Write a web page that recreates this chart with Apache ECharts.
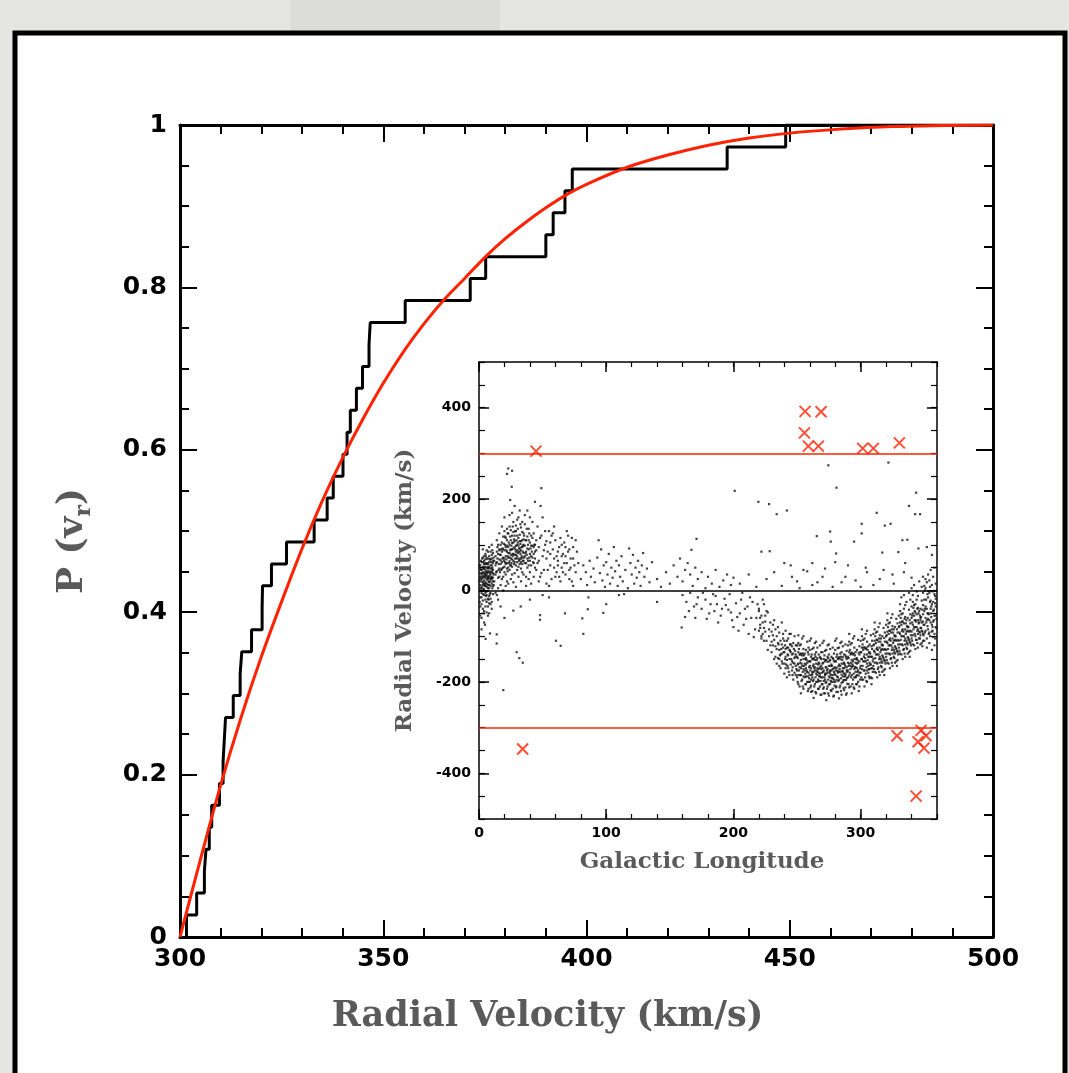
<!DOCTYPE html>
<html>
<head>
<meta charset="utf-8">
<script src="https://cdn.jsdelivr.net/npm/echarts@6.0.0/dist/echarts.min.js"></script>
<style>
html,body{margin:0;padding:0;background:#e5e5e3;}
#chart{width:1069px;height:1073px;}
</style>
</head>
<body>
<div id="chart"></div>
<script>
// ---------- Main panel: cumulative distribution of radial velocities ----------
const stepVelocities = [301.6, 304.1, 306.0, 306.4, 307.2, 307.8, 309.7, 310.6, 310.9, 311.2,
  313.1, 314.8, 315.2, 317.6, 320.2, 320.3, 322.5, 326.2, 333.0, 336.2, 337.7, 340.1, 341.1,
  341.9, 343.4, 344.9, 346.5, 346.8, 355.4, 371.4, 375.2, 390.0, 391.8, 394.7, 396.5, 434.6, 449.0];
const modelVelocities = [300,305,310,315,320,325,330,335,340,345,350,355,360,365,370,375,380,385,390,395,400,410,420,430,440,450,460,475,500];
const modelProbability = [0,0.095,0.187,0.27,0.345,0.413,0.478,0.537,0.59,0.638,0.682,0.721,0.755,0.785,0.811,0.837,0.86,0.88,0.898,0.914,0.927,0.948,0.963,0.975,0.984,0.99,0.994,0.998,1];
const mainXTicks = [300, 350, 400, 450, 500];
const mainYTicks = [0, 0.2, 0.4, 0.6, 0.8, 1];

// ---------- Inset: radial velocity vs galactic longitude (lon, vel pairs) ----------
const starsInnerBulge = [1,12,2,35,3,-8,1,48,4,22,5,60,2,-30,6,15,3,72,7,40,8,-12,5,28,9,55,4,-45,6,88,10,30,7,5,3,18,11,65,8,42,2,-60,9,20,5,-20,6,50,1,-15,10,78,4,38,7,-35,11,10,8,95,3,52,9,-5,6,33,2,8,5,80,10,-25,7,58,4,3,11,45,1,25,8,18,3,-40,6,70,9,35,2,62,5,10,10,55,7,25,4,-70,11,82,8,-28,3,40,6,-10,9,68,1,38,5,45,10,15,7,-55,4,58,2,20,8,32,11,-8,6,24,3,90,9,-18,5,-5,1,-35,10,42,7,12,4,75,8,62,2,45,6,-48,11,28,3,0,9,48,5,32,7,85,1,55,10,-40,4,14,8,5,6,40,2,-5,9,25,11,60,3,28,5,68,7,-18,4,48,10,70,8,-50,1,5,6,8,3,-22,9,85,2,30,5,18,11,38,7,48,4,-10,10,25,8,75,6,58,1,-55,3,62,9,10,2,-85,5,-35,7,30,4,30,10,100,6,-25,8,50,
0.5,20,1.5,45,2.5,5,3.5,32,4.5,58,5.5,15,6.5,42,7.5,-20,8.5,68,9.5,28,10.5,50,11.5,12,0.5,-25,1.5,65,2.5,38,3.5,-50,4.5,10,5.5,75,6.5,28,7.5,52,8.5,-8,9.5,40,10.5,88,11.5,35,0.5,55,1.5,0,2.5,70,3.5,15,4.5,35,5.5,-12,6.5,60,7.5,20,8.5,38,9.5,62,10.5,5,11.5,72,2,25,3,48,4,65,5,40,6,-2,7,70,8,28,9,-30,10,48,11,20,1,30,2,-15,3,12,4,50,5,52,6,36,7,50,8,12];
const starsFirstQuadrant = [12,20,13,55,14,-10,15,80,13,35,16,48,17,100,14,62,18,25,15,5,19,72,16,90,20,40,17,58,21,115,18,85,22,60,19,30,23,95,20,130,21,75,22,20,24,82,25,110,23,50,26,68,24,140,27,92,25,55,28,120,26,35,29,78,27,150,30,100,28,62,31,85,29,130,32,108,30,45,33,70,31,160,34,95,32,58,35,125,33,88,36,75,34,40,37,110,35,65,38,92,36,145,39,55,40,80,37,30,41,120,38,70,42,98,39,135,43,60,44,85,40,40,45,110,41,75,42,150,43,95,44,50,
13,75,14,42,15,28,16,68,17,12,18,105,19,50,20,88,21,35,22,110,23,72,24,45,25,90,26,120,27,65,28,38,29,98,30,75,31,115,32,85,33,48,34,128,35,100,36,60,37,85,38,118,39,90,40,105,41,55,42,72,43,125,44,70,45,88,
14,85,16,30,18,62,20,70,22,85,24,100,26,90,28,78,30,120,32,68,34,72,36,98,38,50,40,65,42,115,44,100,15,100,17,78,19,118,21,95,23,125,25,70,27,105,29,55,31,70,33,108,35,82,37,60,39,110,41,98,43,80,
12,65,14,110,16,125,18,140,20,160,22,135,24,165,26,170,28,185,30,155,32,175,34,150,36,165,38,175,40,160,13,-5,15,-20,17,-35,19,0,21,10,23,15,25,25,27,18,29,8,31,30,33,20,35,35,37,10,39,25,41,15,43,30,45,45,
20,52,21,58,22,48,23,82,24,64,25,78,26,52,27,80,28,95,29,85,30,88,31,52,32,92,33,62,34,110,22,98,24,72,26,104,28,108,30,62,32,122,34,58,19,90,18,48,17,66,16,88,25,132,27,128,29,142,31,98,33,138,35,112,
13.5,60,14.5,95,15.5,45,16.5,78,17.5,90,18.5,70,19.5,102,20.5,62,21.5,88,22.5,75,23.5,105,24.5,88,25.5,98,26.5,80,27.5,112,28.5,90,29.5,70,30.5,105,31.5,92,32.5,80,33.5,95,34.5,85,35.5,72,36.5,110,37.5,78,38.5,100,39.5,72,40.5,92,13.5,40,14.5,70,15.5,58,16.5,40,17.5,45,18.5,92,19.5,65,20.5,100,21.5,68,22.5,42,23.5,60,24.5,118,25.5,60,26.5,75,27.5,58,28.5,130,29.5,110,30.5,82,31.5,65,32.5,102,33.5,75,34.5,98,35.5,120,36.5,82,37.5,135,38.5,65,39.5,125,41.5,85,42.5,62,43.5,100,20.5,118,22.5,125,24.5,55,26.5,140,28.5,70,30.5,135,32.5,145,34.5,65];
const starsOuterFirst = [46,60,47,95,48,30,49,120,50,75,51,45,52,100,53,15,54,85,55,130,56,55,57,25,58,90,59,70,60,110,61,40,62,65,63,95,64,20,65,50,66,80,67,105,68,35,69,60,70,85,71,45,72,70,73,20,74,95,75,55,46,140,48,115,50,160,52,130,54,45,56,105,58,125,60,30,62,85,64,115,66,40,68,75,70,120,72,50,74,10,47,65,49,38,51,88,53,70,55,10,57,120,59,50,61,75,63,30,65,100,67,60,69,130,71,90,73,115,47,20,50,-10,53,108,56,80,59,140,62,55,65,75,68,95,71,25,74,70,76,40,77,85,78,60,76,110];
const starsAnticentre = [80,25,82,55,84,40,85,12,87,65,88,30,90,48,91,18,93,72,95,38,96,90,97,22,98,55,99,8,100,62,101,35,102,80,103,15,104,50,105,28,106,95,107,42,108,65,109,10,110,55,111,30,112,75,113,20,115,45,117,5,119,60,120,35,121,78,122,15,123,50,124,28,125,65,126,40,127,10,128,55,129,82,130,30,132,48,134,18,136,62,140,25,143,8,147,40,150,15,153,55,156,30,158,70,160,20,162,45,164,60,166,35,168,10,170,50,172,25,175,40,178,5,180,30,183,15,186,45,189,8,192,22,195,35,198,12,200,28,94,110,118,92,86,-15,114,-8,171,113,167,89,
160,-10,163,-25,166,-5,169,-35,172,-15,175,-40,178,-20,181,-50,184,-8,187,-30,190,-55,193,-18,196,-42,199,-65,202,-28,205,-50,208,-75,211,-35,214,-60,217,-85,220,-45,223,-70,165,-45,170,-60,176,-5,182,-30,188,-70,194,-32,200,-80,206,-20,212,-95,218,-60,222,-100,186,-12,191,-40,197,-8,203,-58,209,-40,215,-25,221,-82,224,-110,210,-62,216,-102,204,-88,198,-48,207,-5,213,-15,219,-30,225,-55,179,-62,185,-45,171,-30,162,-58];
const starsFourthQuadrant = [220,-40,221,-75,222,-55,223,-95,224,-30,225,-68,226,-110,227,-48,228,-85,229,-120,221,-60,223,-20,225,-90,227,-130,229,-70,222,-105,224,-82,226,-45,228,-100,220,-88,
230,-90,231,-120,232,-65,233,-145,234,-100,235,-80,236,-130,237,-110,238,-155,239,-95,230,-135,231,-75,232,-108,233,-122,234,-160,235,-115,236,-92,237,-140,238,-70,239,-125,230,-112,232,-150,234,-128,236,-165,238,-118,231,-98,233,-85,235,-148,237,-170,239,-105,
240,-110,241,-145,242,-125,243,-170,244,-95,245,-135,246,-155,247,-115,248,-180,249,-140,240,-160,241,-128,242,-190,243,-105,244,-150,245,-118,246,-175,247,-138,248,-100,249,-165,240,-135,241,-88,242,-152,243,-142,244,-185,245,-162,246,-122,247,-195,248,-148,249,-120,240,-182,242,-110,244,-130,246,-140,248,-160,241,-170,243,-125,245,-95,247,-158,249,-185,
250,-120,251,-160,252,-140,253,-185,254,-105,255,-150,256,-175,257,-130,258,-200,259,-155,250,-175,251,-135,252,-210,253,-118,254,-165,255,-128,256,-190,257,-148,258,-112,259,-180,250,-145,251,-98,252,-168,253,-152,254,-195,255,-172,256,-138,257,-205,258,-158,259,-125,250,-190,251,-185,252,-120,253,-138,254,-142,255,-215,256,-160,257,-170,258,-178,259,-140,251,-115,253,-170,255,-100,257,-188,259,-200,
260,-130,261,-170,262,-150,263,-195,264,-115,265,-160,266,-185,267,-140,268,-210,269,-165,260,-185,261,-145,262,-220,263,-125,264,-175,265,-135,266,-200,267,-158,268,-120,269,-190,260,-155,261,-105,262,-178,263,-162,264,-205,265,-182,266,-148,267,-215,268,-168,269,-135,260,-200,261,-195,262,-128,263,-148,264,-152,265,-225,266,-170,267,-180,268,-188,269,-150,260,-110,262,-190,264,-140,266,-125,268,-145,261,-208,263,-178,265,-112,267,-198,269,-172,
270,-135,271,-175,272,-155,273,-200,274,-120,275,-165,276,-190,277,-145,278,-215,279,-170,270,-190,271,-150,272,-225,273,-130,274,-180,275,-140,276,-205,277,-162,278,-125,279,-195,270,-160,271,-110,272,-182,273,-168,274,-210,275,-188,276,-152,277,-220,278,-172,279,-138,270,-205,271,-198,272,-132,273,-152,274,-156,275,-230,276,-175,277,-185,278,-192,279,-155,270,-115,272,-195,274,-145,276,-128,278,-148,271,-212,273,-182,275,-118,277,-200,279,-178,
280,-130,281,-170,282,-150,283,-195,284,-115,285,-160,286,-188,287,-140,288,-212,289,-168,280,-185,281,-145,282,-222,283,-125,284,-178,285,-135,286,-200,287,-158,288,-118,289,-192,280,-155,281,-105,282,-176,283,-162,284,-208,285,-184,286,-146,287,-218,288,-166,289,-132,280,-200,281,-196,282,-126,283,-146,284,-150,285,-228,286,-170,287,-182,288,-186,289,-150,280,-110,282,-190,284,-138,286,-122,288,-142,281,-210,283,-178,285,-112,287,-196,289,-175,
290,-120,291,-160,292,-140,293,-185,294,-105,295,-150,296,-178,297,-130,298,-200,299,-155,290,-175,291,-135,292,-210,293,-115,294,-165,295,-125,296,-190,297,-148,298,-108,299,-180,290,-145,291,-95,292,-165,293,-152,294,-195,295,-172,296,-135,297,-205,298,-158,299,-122,290,-190,291,-186,292,-118,293,-136,294,-140,295,-215,296,-158,297,-170,298,-175,299,-140,291,-112,293,-168,295,-100,297,-185,
300,-110,301,-150,302,-130,303,-175,304,-95,305,-140,306,-165,307,-118,308,-190,309,-145,300,-165,301,-125,302,-195,303,-105,304,-155,305,-112,306,-180,307,-135,308,-98,309,-170,300,-135,301,-85,302,-155,303,-140,304,-182,305,-160,306,-122,307,-192,308,-145,309,-110,300,-180,301,-172,302,-108,303,-125,304,-128,305,-200,306,-145,307,-158,308,-162,309,-128,301,-100,303,-155,305,-88,307,-172,
310,-95,311,-135,312,-115,313,-160,314,-80,315,-125,316,-150,317,-100,318,-175,319,-128,310,-150,311,-110,312,-180,313,-90,314,-140,315,-98,316,-165,317,-120,318,-82,319,-155,310,-120,311,-70,312,-140,313,-125,314,-168,315,-145,316,-105,317,-178,318,-130,319,-92,310,-165,311,-158,312,-92,313,-108,314,-112,315,-185,316,-130,317,-142,318,-148,319,-112,311,-85,313,-140,315,-72,317,-158,
320,-75,321,-115,322,-95,323,-140,324,-60,325,-105,326,-130,327,-80,328,-155,329,-108,320,-130,321,-90,322,-160,323,-70,324,-120,325,-78,326,-145,327,-100,328,-62,329,-135,320,-100,321,-50,322,-120,323,-105,324,-148,325,-125,326,-85,327,-158,328,-110,329,-72,320,-145,321,-138,322,-72,323,-88,324,-92,325,-165,326,-110,327,-122,328,-128,329,-92,321,-65,323,-120,325,-52,327,-138,
330,-55,331,-95,332,-75,333,-120,334,-40,335,-85,336,-110,337,-60,338,-135,339,-88,330,-110,331,-70,332,-140,333,-50,334,-100,335,-58,336,-125,337,-80,338,-42,339,-115,330,-80,331,-30,332,-100,333,-85,334,-128,335,-105,336,-65,337,-138,338,-90,339,-52,330,-125,331,-118,332,-52,333,-68,334,-72,335,-145,336,-90,337,-102,338,-108,339,-72,331,-45,333,-100,335,-32,337,-118,339,-20,332,-15,334,-10,336,-25,338,-5,
340,-35,341,-75,342,-55,343,-100,344,-20,345,-65,346,-90,347,-40,348,-115,349,-68,340,-90,341,-50,342,-120,343,-30,344,-80,345,-38,346,-105,347,-60,348,-22,349,-95,340,-60,341,-10,342,-80,343,-65,344,-108,345,-85,346,-45,347,-118,348,-70,349,-32,340,-105,341,-98,342,-32,343,-48,344,-52,345,-125,346,-70,347,-82,348,-88,349,-52,341,-25,343,-80,345,-12,347,-98,349,-5,340,5,342,12,344,-2,346,20,348,8,349,30,
350,-20,351,-60,352,-40,353,-85,354,-5,355,-50,356,-75,357,-25,358,-95,359,-55,350,-75,351,-35,352,-105,353,-15,354,-65,355,-22,356,-90,357,-45,358,-8,359,-80,350,-45,351,5,352,-65,353,-50,354,-92,355,-70,356,-30,357,-102,358,-55,359,-18,350,10,351,25,352,18,353,35,354,22,355,45,356,12,357,30,358,50,359,15,350,-110,352,-125,354,-115,356,-130,358,-120,351,-88,353,-62,355,-40,357,-68,359,-35];
const starsFourthCore = [235.5,-118,236.5,-142,237.5,-128,238.5,-160,239.5,-135,236,-150,238,-138,240.5,-120,241.5,-162,242.5,-140,243.5,-178,244.5,-132,245.5,-150,246.5,-168,247.5,-128,248.5,-145,249.5,-172,240.5,-150,242.5,-165,244.5,-118,246.5,-185,248.5,-132,
250.5,-148,251.5,-175,252.5,-158,253.5,-198,254.5,-138,255.5,-165,256.5,-182,257.5,-152,258.5,-220,259.5,-168,250.5,-200,251.5,-128,252.5,-185,253.5,-160,254.5,-210,255.5,-142,256.5,-205,257.5,-175,258.5,-135,259.5,-192,250.5,-162,252.5,-140,254.5,-178,256.5,-150,258.5,-188,251,-205,253,-225,255,-188,257,-162,259,-215,
260.5,-155,261.5,-185,262.5,-165,263.5,-210,264.5,-145,265.5,-175,266.5,-195,267.5,-160,268.5,-228,269.5,-180,260.5,-212,261.5,-140,262.5,-198,263.5,-170,264.5,-222,265.5,-152,266.5,-215,267.5,-188,268.5,-148,269.5,-205,260.5,-175,262.5,-150,264.5,-190,266.5,-162,268.5,-198,261,-222,263,-235,265,-200,267,-172,269,-228,260,-165,262,-182,264,-168,266,-178,268,-182,
270.5,-158,271.5,-190,272.5,-168,273.5,-215,274.5,-148,275.5,-178,276.5,-198,277.5,-165,278.5,-232,279.5,-182,270.5,-215,271.5,-142,272.5,-202,273.5,-175,274.5,-225,275.5,-155,276.5,-218,277.5,-192,278.5,-150,279.5,-208,270.5,-178,272.5,-152,274.5,-195,276.5,-165,278.5,-200,271,-225,273,-240,275,-205,277,-175,279,-230,270,-170,272,-185,274,-172,276,-182,278,-185,
280.5,-155,281.5,-188,282.5,-166,283.5,-212,284.5,-145,285.5,-176,286.5,-196,287.5,-162,288.5,-228,289.5,-178,280.5,-212,281.5,-140,282.5,-198,283.5,-172,284.5,-220,285.5,-152,286.5,-214,287.5,-188,288.5,-146,289.5,-204,280.5,-175,282.5,-148,284.5,-192,286.5,-160,288.5,-196,281,-222,283,-236,285,-202,287,-170,289,-225,280,-168,282,-180,284,-165,286,-178,288,-182,
290.5,-148,291.5,-180,292.5,-158,293.5,-205,294.5,-138,295.5,-168,296.5,-188,297.5,-152,298.5,-220,299.5,-170,290.5,-205,291.5,-130,292.5,-190,293.5,-162,294.5,-212,295.5,-142,296.5,-205,297.5,-178,298.5,-136,299.5,-195,290.5,-165,292.5,-138,294.5,-182,296.5,-150,298.5,-186,291,-212,293,-225,295,-190,297,-160,299,-210,290,-158,292,-172,294,-155,296,-168,
300.5,-135,301.5,-165,302.5,-145,303.5,-190,304.5,-125,305.5,-152,306.5,-172,307.5,-138,308.5,-205,309.5,-155,300.5,-190,301.5,-118,302.5,-175,303.5,-148,304.5,-198,305.5,-130,306.5,-188,307.5,-162,308.5,-122,309.5,-178,300.5,-150,302.5,-125,304.5,-168,306.5,-136,308.5,-170,301,-195,303,-210,305,-175,307,-145,309,-192,
310.5,-118,311.5,-148,312.5,-128,313.5,-172,314.5,-105,315.5,-135,316.5,-155,317.5,-120,318.5,-185,319.5,-138,310.5,-172,311.5,-100,312.5,-158,313.5,-130,314.5,-178,315.5,-112,316.5,-168,317.5,-145,318.5,-104,319.5,-160,310.5,-132,312.5,-108,314.5,-150,316.5,-118,318.5,-152,311,-178,313,-190,315,-158,317,-128,319,-172,
320.5,-98,321.5,-128,322.5,-108,323.5,-150,324.5,-85,325.5,-115,326.5,-135,327.5,-100,328.5,-165,329.5,-118,320.5,-152,321.5,-80,322.5,-138,323.5,-110,324.5,-158,325.5,-92,326.5,-148,327.5,-125,328.5,-85,329.5,-140,320.5,-112,322.5,-88,324.5,-130,326.5,-98,328.5,-132,321,-158,323,-170,325,-138,327,-108,329,-152,
330.5,-78,331.5,-108,332.5,-88,333.5,-130,334.5,-62,335.5,-95,336.5,-115,337.5,-80,338.5,-145,339.5,-98,330.5,-132,331.5,-60,332.5,-118,333.5,-90,334.5,-138,335.5,-72,336.5,-128,337.5,-105,338.5,-65,339.5,-120,330.5,-92,332.5,-68,334.5,-110,336.5,-78,338.5,-112,331,-138,333,-150,335,-118,337,-88,339,-132,
340.5,-55,341.5,-85,342.5,-65,343.5,-108,344.5,-40,345.5,-72,346.5,-92,347.5,-58,348.5,-122,349.5,-75,340.5,-110,341.5,-38,342.5,-95,343.5,-68,344.5,-115,345.5,-50,346.5,-105,347.5,-82,348.5,-42,349.5,-98,340.5,-70,342.5,-45,344.5,-88,346.5,-55,348.5,-90,341,-118,343,-128,345,-95,347,-65,349,-110,
350.5,-40,351.5,-70,352.5,-50,353.5,-95,354.5,-25,355.5,-58,356.5,-80,357.5,-42,358.5,-105,359.5,-62,350.5,-92,351.5,-20,352.5,-78,353.5,-52,354.5,-100,355.5,-35,356.5,-88,357.5,-65,358.5,-28,359.5,-82,350.5,0,352.5,-8,354.5,8,356.5,-2,358.5,-12];
const starsScattered = [23,267,25.7,227,24.5,198,49,224,44,194,48.4,185,22,255,26,262,
201,218,219.6,194,228,189,234,167,242,175,274.6,274,281,225,321.8,280,343.6,214,338,185,342.8,167,346.7,167,312.6,170,300.8,146,300.8,125,319,142,323.5,146,265.5,119,276,129,276.5,107,294.8,107,280.7,81,222,85,228.5,86,332.8,110,336.7,111,317,83,329.6,84,345.4,92,352,95,356,78,240,60,255,45,270,30,290,55,305,40,335,60,250,20,262,12,285,18,300,8,315,25,325,35,
4.7,-75,8.6,-94,5.2,-106,13.9,-96,13.9,-116,29.6,-135,31.7,-148,34.4,-158,19.1,-218,60.5,-110,64.2,-121,81.2,-61,97.7,-49,67.6,-50,85.5,-41,159.3,-81,48,-54,48,-64,27,-44,32.8,-35,20,-60,40,-20,55,-15,110,-10,140,-25,100,-30,82,-95,
205,15,212,35,218,8,226,25,232,40,238,10,246,30,252,5,258,42,266,18,272,48,278,8,288,30,296,22,304,50,310,12,318,45,326,15,334,40,340,28,245,55,262,60,280,62];

// High-velocity candidates (red crosses)
const candidateLon = [44.8, 256.3, 268.9, 255.8, 258.9, 266.8, 301.6, 310.0, 330.4, 34.3, 328.6, 347.5, 351.4, 345.1, 349.8, 343.6];
const candidateVel = [305, 392, 391, 345, 316, 316, 311, 311, 323, -347, -318, -306, -318, -331, -345, -450];
const velocityCut = [300, -300];
const insetXTicks = [0, 100, 200, 300];
const insetYTicks = [-400, -200, 0, 200, 400];

function pairs(flat) { const out = []; for (let i = 0; i < flat.length; i += 2) out.push([flat[i], flat[i + 1]]); return out; }
const allStars = [].concat(pairs(starsInnerBulge), pairs(starsFirstQuadrant), pairs(starsOuterFirst),
  pairs(starsAnticentre), pairs(starsFourthQuadrant), pairs(starsFourthCore), pairs(starsScattered));

const N = stepVelocities.length;
const stepData = [[stepVelocities[0], 0]].concat(stepVelocities.map((v, i) => [v, (i + 1) / N]), [[500, 1]]);
const modelData = modelVelocities.map((v, i) => [v, modelProbability[i]]);
const candidateData = candidateLon.map((l, i) => [l, candidateVel[i]]);

const numFont = 'DejaVu Sans';
const serif = 'DejaVu Serif';
const black = '#000';
const red = '#ff2200';
const titleGray = '#5a5a5a';

function mainX(pos, labels) {
  return {
    type: 'value', gridIndex: 0, position: pos, min: 300, max: 500, interval: 50,
    axisLine: { show: true, onZero: false, lineStyle: { color: black, width: 3 } },
    axisTick: { show: true, inside: true, length: 17, lineStyle: { color: black, width: 2 } },
    minorTick: { show: true, splitNumber: 5, length: 9, lineStyle: { color: black, width: 2 } },
    splitLine: { show: false }, minorSplitLine: { show: false },
    axisLabel: { show: labels, fontFamily: numFont, fontWeight: 'bold', fontSize: 25, color: black, margin: 10,
      customValues: mainXTicks },
    name: labels ? 'Radial Velocity (km/s)' : '', nameLocation: 'middle', nameGap: 62,
    nameTextStyle: { fontFamily: serif, fontWeight: 'bold', fontSize: 35, color: titleGray, padding: [0, 78, 0, 0] }
  };
}
function mainY(pos, labels) {
  return {
    type: 'value', gridIndex: 0, position: pos, min: 0, max: 1, interval: 0.2,
    axisLine: { show: true, onZero: false, lineStyle: { color: black, width: 3 } },
    axisTick: { show: true, inside: true, length: 17, lineStyle: { color: black, width: 2 } },
    minorTick: { show: true, splitNumber: 4, length: 9, lineStyle: { color: black, width: 2 } },
    splitLine: { show: false }, minorSplitLine: { show: false },
    axisLabel: { show: labels, fontFamily: numFont, fontWeight: 'bold', fontSize: 25, color: black, margin: 13,
      customValues: mainYTicks },
    name: labels ? 'P (v{s|r})' : '', nameLocation: 'middle', nameGap: 85, nameRotate: 90,
    nameTextStyle: { fontFamily: serif, fontWeight: 'bold', fontSize: 36, color: titleGray, lineHeight: 44, padding: [0, 20, 0, 0],
      rich: { s: { fontFamily: serif, fontWeight: 'bold', fontSize: 22, color: titleGray, verticalAlign: 'bottom', lineHeight: 44 } } }
  };
}
function insetX(pos, major) {
  return {
    type: 'value', gridIndex: 1, position: pos, min: 0, max: 360, interval: major ? 100 : 20,
    axisLine: { show: major, onZero: false, lineStyle: { color: black, width: 1.5 } },
    axisTick: major ? { show: true, inside: true, length: 10, customValues: insetXTicks, lineStyle: { color: black, width: 1.5 } }
                    : { show: true, inside: true, length: 5, lineStyle: { color: black, width: 1.2 } },
    splitLine: { show: false },
    axisLabel: { show: major && pos === 'bottom', fontFamily: numFont, fontWeight: 'bold', fontSize: 14, color: black, margin: 7,
      customValues: insetXTicks },
    name: (major && pos === 'bottom') ? 'Galactic Longitude' : '', nameLocation: 'middle', nameGap: 32,
    nameTextStyle: { fontFamily: serif, fontWeight: 'bold', fontSize: 23, color: titleGray, padding: [0, 12, 0, 0] }
  };
}
function insetY(pos, major) {
  return {
    type: 'value', gridIndex: 1, position: pos, min: -500, max: 500, interval: 50,
    axisLine: { show: major, onZero: false, lineStyle: { color: black, width: 1.5 } },
    axisTick: major ? { show: true, inside: true, length: 10, customValues: insetYTicks, lineStyle: { color: black, width: 1.5 } }
                    : { show: true, inside: true, length: 6, lineStyle: { color: black, width: 1.2 } },
    splitLine: { show: false },
    axisLabel: { show: major && pos === 'left', fontFamily: numFont, fontWeight: 'bold', fontSize: 14, color: black, margin: 8,
      customValues: insetYTicks },
    name: (major && pos === 'left') ? 'Radial Velocity (km/s)' : '', nameLocation: 'middle', nameGap: 62, nameRotate: 90,
    nameTextStyle: { fontFamily: serif, fontWeight: 'bold', fontSize: 23, color: titleGray }
  };
}

const chart = echarts.init(document.getElementById('chart'), null, { renderer: 'canvas' });
chart.setOption({
  backgroundColor: '#e5e5e3',
  animation: false,
  graphic: [
    { type: 'rect', z: -10, shape: { x: 290, y: 0, width: 210, height: 31 }, style: { fill: '#dcdcda' } },
    { type: 'rect', z: -9, shape: { x: 15, y: 33, width: 1050, height: 1100 }, style: { fill: '#ffffff', stroke: '#000', lineWidth: 5 } }
  ],
  grid: [
    { left: 180, top: 125, width: 813, height: 812 },
    { left: 479, top: 362, width: 458, height: 457 }
  ],
  xAxis: [mainX('bottom', true), mainX('top', false), insetX('bottom', true), insetX('top', true), insetX('bottom', false), insetX('top', false)],
  yAxis: [mainY('left', true), mainY('right', false), insetY('left', true), insetY('right', true), insetY('left', false), insetY('right', false)],
  series: [
    { type: 'line', xAxisIndex: 0, yAxisIndex: 0, data: stepData, step: 'end', showSymbol: false, silent: true,
      lineStyle: { color: black, width: 3 }, z: 3 },
    { type: 'line', xAxisIndex: 0, yAxisIndex: 0, data: modelData, smooth: 0.3, showSymbol: false, silent: true,
      lineStyle: { color: red, width: 3 }, z: 4 },
    { type: 'scatter', xAxisIndex: 2, yAxisIndex: 2, data: allStars, symbol: 'rect', symbolSize: 2.2, silent: true,
      itemStyle: { color: '#111' }, z: 3,
      markLine: { silent: true, symbol: 'none', label: { show: false },
        data: [ { yAxis: velocityCut[0], lineStyle: { color: red, width: 1.5, type: 'solid' } },
                { yAxis: velocityCut[1], lineStyle: { color: red, width: 1.5, type: 'solid' } },
                { yAxis: 0, lineStyle: { color: black, width: 1.5, type: 'solid' } } ] } },
    { type: 'scatter', xAxisIndex: 2, yAxisIndex: 2, data: candidateData, symbol: 'path://M0,0L10,10M10,0L0,10', symbolSize: 11, silent: true,
      itemStyle: { color: 'none', borderColor: red, borderWidth: 2 }, z: 5 }
  ]
});
</script>
</body>
</html>
